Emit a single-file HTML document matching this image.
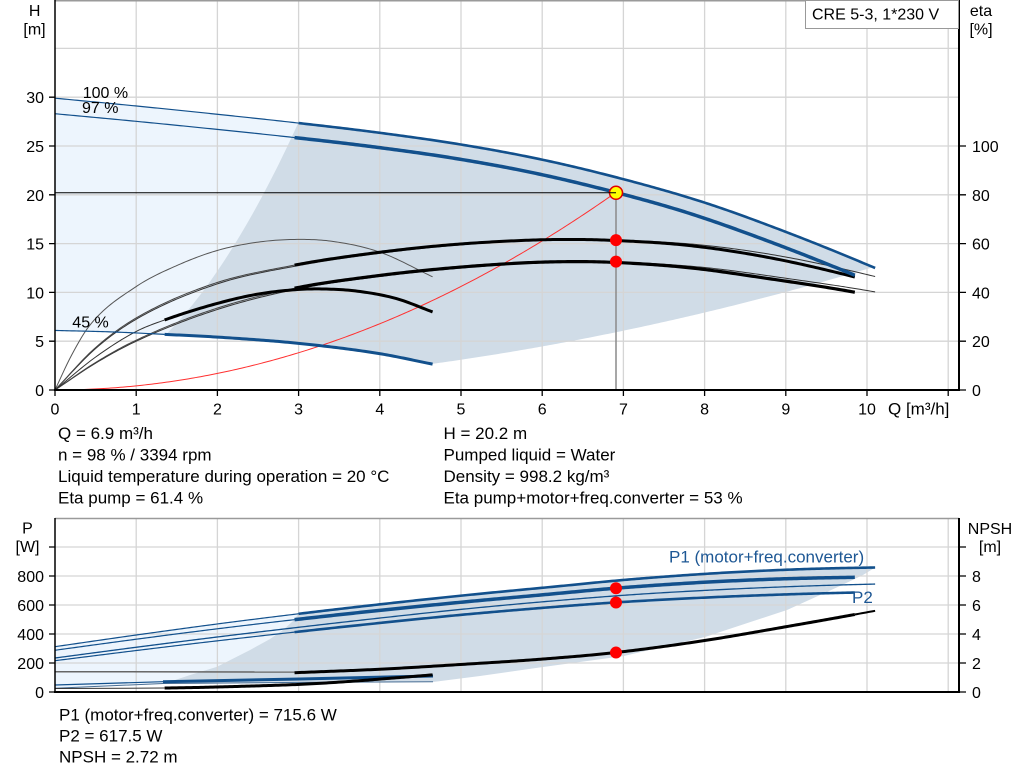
<!DOCTYPE html>
<html><head><meta charset="utf-8">
<style>
html,body{margin:0;padding:0;background:#fff;}
svg{display:block;font-family:"Liberation Sans",Arial,sans-serif;}
.t16{font-size:16px;fill:#000;}
.t17{font-size:17px;fill:#000;}
</style></head><body>
<svg id="c" width="1024" height="781" viewBox="0 0 1024 781" xmlns="http://www.w3.org/2000/svg">
<rect x="0" y="0" width="1024" height="781" fill="#fff"/>
<g id="fills"></g>
<g stroke="#d5d5d5" stroke-width="1.3" fill="none">
<path d="M136.2 0V390M217.4 0V390M298.6 0V390M379.8 0V390M461 0V390M542.2 0V390M623.4 0V390M704.6 0V390M785.8 0V390M867 0V390M948.2 0V390"/>
<path d="M55 341.2H959M55 292.4H959M55 243.6H959M55 194.8H959M55 146H959M55 97.2H959M55 48.4H959"/>
<path d="M136.2 518V692M217.4 518V692M298.6 518V692M379.8 518V692M461 518V692M542.2 518V692M623.4 518V692M704.6 518V692M785.8 518V692M867 518V692M948.2 518V692"/>
<path d="M55 663H959M55 634H959M55 605H959M55 576H959M55 547H959"/>
</g>
<g id="curves"></g>
<g fill="none" stroke="#000">
<path d="M55 0.7H959M55 518.5H959" stroke="#9a9a9a" stroke-width="1.5"/>
<path d="M55 0V391" stroke-width="1.5"/>
<path d="M54 390H960" stroke-width="2"/>
<path d="M959 0V391" stroke-width="2"/>
<path d="M49 390H55M49 341.2H55M49 292.4H55M49 243.6H55M49 194.8H55M49 146H55M49 97.2H55" stroke-width="1.3"/>
<path d="M959 390H966M959 341.2H966M959 292.4H966M959 243.6H966M959 194.8H966M959 146H966" stroke-width="1.3"/>
<path d="M55 390V396M136.2 390V396M217.4 390V396M298.6 390V396M379.8 390V396M461 390V396M542.2 390V396M623.4 390V396M704.6 390V396M785.8 390V396M867 390V396M948.2 390V396" stroke-width="1.3"/>
<path d="M55 518V693" stroke-width="1.5"/>
<path d="M54 692H960" stroke-width="2"/>
<path d="M959 518V693" stroke-width="2"/>
<path d="M49 692H55M49 663H55M49 634H55M49 605H55M49 576H55M49 547H55" stroke-width="1.3"/>
<path d="M959 692H966M959 663H966M959 634H966M959 605H966M959 576H966M959 547H966" stroke-width="1.3"/>
</g>
<rect x="805.5" y="0.5" width="153" height="28" fill="#fff" stroke="#999" stroke-width="1"/>
<text class="t16" x="812" y="19.5">CRE 5-3, 1*230 V</text>
<g class="t16" text-anchor="middle">
<text x="34.7" y="16">H</text>
<text x="34.5" y="34.5">[m]</text>
<text x="981" y="16">eta</text>
<text x="981" y="34.5">[%]</text>
<text x="27.5" y="533.5">P</text>
<text x="27.5" y="552">[W]</text>
<text x="990" y="534">NPSH</text>
<text x="990" y="552">[m]</text>
</g>
<g class="t16" text-anchor="end">
<text x="44" y="396">0</text><text x="44" y="347.2">5</text><text x="44" y="298.4">10</text><text x="44" y="249.6">15</text><text x="44" y="200.8">20</text><text x="44" y="152">25</text><text x="44" y="103.2">30</text>
<text x="44" y="698">0</text><text x="44" y="669">200</text><text x="44" y="640">400</text><text x="44" y="611">600</text><text x="44" y="582">800</text>
</g>
<g class="t16">
<text x="972" y="396">0</text><text x="972" y="347.2">20</text><text x="972" y="298.4">40</text><text x="972" y="249.6">60</text><text x="972" y="200.8">80</text><text x="972" y="152">100</text>
<text x="972" y="698">0</text><text x="972" y="669">2</text><text x="972" y="640">4</text><text x="972" y="611">6</text><text x="972" y="582">8</text>
<text x="888" y="414.5" style="font-size:17px">Q [m³/h]</text>
<text x="82.7" y="98">100 %</text>
<text x="82" y="113">97 %</text>
<text x="72.3" y="327.5">45 %</text>
</g>
<g class="t16" text-anchor="middle">
<text x="55" y="414.5">0</text><text x="136.2" y="414.5">1</text><text x="217.4" y="414.5">2</text><text x="298.6" y="414.5">3</text><text x="379.8" y="414.5">4</text><text x="461" y="414.5">5</text><text x="542.2" y="414.5">6</text><text x="623.4" y="414.5">7</text><text x="704.6" y="414.5">8</text><text x="785.8" y="414.5">9</text><text x="867" y="414.5">10</text>
</g>
<g class="t17">
<text x="58" y="439">Q = 6.9 m³/h</text>
<text x="58" y="460.5">n = 98 % / 3394 rpm</text>
<text x="58" y="482">Liquid temperature during operation = 20 °C</text>
<text x="58" y="503.5">Eta pump = 61.4 %</text>
<text x="443.5" y="439">H = 20.2 m</text>
<text x="443.5" y="460.5">Pumped liquid = Water</text>
<text x="443.5" y="482">Density = 998.2 kg/m³</text>
<text x="443.5" y="503.5">Eta pump+motor+freq.converter = 53 %</text>
<text x="59" y="720.5">P1 (motor+freq.converter) = 715.6 W</text>
<text x="59" y="741.5">P2 = 617.5 W</text>
<text x="59" y="762.5">NPSH = 2.72 m</text>
<text x="669" y="562.5" style="fill:#1d5794">P1 (motor+freq.converter)</text>
<text x="852" y="603" style="fill:#1d5794">P2</text>
</g>
<g id="marks"></g>
</svg>
<script>
(function(){
var NS="http://www.w3.org/2000/svg";
function X(q){return 55+81.2*q;}
function YT(h){return 390-9.76*h;}
function YE(e){return 390-2.44*e;}
function YP(p){return 692-0.145*p;}
function YN(n){return 692-14.5*n;}
function sp(pts){var n=pts.length,xs=[],ys=[],d=[],m=[],i;
for(i=0;i<n;i++){xs.push(pts[i][0]);ys.push(pts[i][1]);}
for(i=0;i<n-1;i++)d[i]=(ys[i+1]-ys[i])/(xs[i+1]-xs[i]);
m[0]=d[0];m[n-1]=d[n-2];for(i=1;i<n-1;i++)m[i]=(d[i-1]+d[i])/2;
return function(x){var i=0;while(i<n-2&&x>xs[i+1])i++;var h=xs[i+1]-xs[i],t=(x-xs[i])/h,t2=t*t,t3=t2*t;
return (2*t3-3*t2+1)*ys[i]+(t3-2*t2+t)*h*m[i]+(-2*t3+3*t2)*ys[i+1]+(t3-t2)*h*m[i+1];};}
function P(f,q0,q1,Y){var a=[],N=Math.max(4,Math.ceil(Math.abs(q1-q0)/0.03));for(var k=0;k<=N;k++){var q=q0+(q1-q0)*k/N;a.push([X(q),Y(f(q))]);}return a;}
function d(a,start){var s='';for(var i=0;i<a.length;i++){s+=((i||!start)?'L':'M')+a[i][0].toFixed(2)+' '+a[i][1].toFixed(2);}return s;}
function add(g,tag,attrs){var e=document.createElementNS(NS,tag);for(var k in attrs)e.setAttribute(k,attrs[k]);document.getElementById(g).appendChild(e);return e;}
function line(a,col,w){add('curves','path',{d:d(a,true),fill:'none',stroke:col,'stroke-width':w,'stroke-linejoin':'round','stroke-linecap':'butt'});}
var BL='#12508c',BK='#000';
var H100=sp([[0,29.9],[1,29.1],[2,28.25],[3,27.35],[4,26.35],[5,25.15],[6,23.6],[7,21.6],[8,19.2],[9,16.2],[10.1,12.5],[10.4,11.4]]);
var H97=function(q){return 0.9467*H100(q/0.973);};
var H45=sp([[0,6.1],[0.7,5.95],[1.35,5.7],[2,5.42],[3,4.78],[4,3.72],[4.65,2.65]]);
var eP=sp([[0,0],[0.5,17],[1,29],[2,43.5],[3,51],[4,56],[5,59.5],[6,61.4],[6.5,61.7],[7,61.4],[8,59.3],[9,54.5],[10.1,46.5],[10.4,43.8]]);
var eP97=function(q){return eP(q/0.973);};
var eP45=sp([[0,0],[0.2,14],[0.43,26.6],[1,42.4],[1.5,51],[2,57.2],[2.5,60.6],[2.95,61.7],[3.4,61],[4,56.5],[4.65,46.4]]);
var eT=sp([[0,0],[0.5,11],[1,20],[2,33],[3,41.5],[4,46.5],[5,50],[6,52.2],[6.5,52.6],[7,52.4],[8,50.2],[9,45.8],[10.1,40.2],[10.4,38.2]]);
var eT97=function(q){return eT(q/0.973);};
var eT45=sp([[0,0],[0.5,13.5],[1,24],[1.35,28.7],[2,35.5],[2.5,39.3],[3,41.2],[3.3,41.4],[3.7,40.6],[4.2,37.5],[4.65,32]]);
var P1=sp([[0,288],[1,364],[2,436],[3,502],[4,563],[5,619],[6,670],[6.9,715.6],[8,757],[9,781],[9.85,791],[10.2,793]]);
var P1h=function(q){return P1(0.973*q)/0.921;};
var P2=sp([[0,216],[1,286],[2,353],[3,416],[4,476],[5,532],[6,580],[6.9,617.5],[8,651],[9,673],[9.85,686],[10.2,690]]);
var P2h=function(q){return P2(0.973*q)/0.921;};
var NP=sp([[2.95,1.33],[4,1.57],[5,1.9],[6,2.27],[6.9,2.72],[8,3.55],[9,4.5],[10.1,5.6],[10.4,5.92]]);
var NP45=function(q){return 0.2025*NP(q/0.45);};
var sysc=function(q){return 0.4243*q*q;};
var bmin=function(q){return 3.05*q*q;};
var bmax=function(q){return 0.124*q*q;};

/* top fills */
var qi=2.995;
var light=P(H100,0,qi,YT).concat(P(bmin,qi,1.35,YT)).concat(P(H45,1.35,0,YT));
add('fills','path',{d:d(light,true)+'Z',fill:'#edf5fd',stroke:'none'});
var gray=P(H100,qi,10.1,YT).concat(P(bmax,10.1,4.65,YT)).concat(P(H45,4.65,1.35,YT)).concat(P(bmin,1.35,qi,YT));
add('fills','path',{d:d(gray,true)+'Z',fill:'#d0dce7',stroke:'none'});
/* bottom fills */
var leftB=[[163,684],[175,680],[190,675],[217,666.7],[250,650],[270,639],[283,630],[293,621]];
var lb=P(P1h,0,3,YP);
var lbr=leftB.slice().reverse();
var lightB=lb.concat(lbr).concat([[55,688]]);
add('fills','path',{d:d(lightB,true)+'Z',fill:'#edf5fd',stroke:'none'});
var grayB=P(P1h,3,10.1,YP).concat([[863,575],[840,586],[787,610],[705,637],[624,656],[543,667],[480,676],[433,682]]).concat(leftB);
add('fills','path',{d:d(grayB,true)+'Z',fill:'#d0dce7',stroke:'none'});

/* top curves */
line(P(sysc,0,6.9,YT),'#ff3030',1);
add('curves','path',{d:'M616 193V390',fill:'none',stroke:'#8a8a8a','stroke-width':1.5});
line(P(eP45,0,4.65,YE),'#555',1);
line(P(eP,0,10.1,YE),'#333',1);
line(P(eT,0,10.1,YE),'#333',1);
line(P(eP97,0,2.95,YE),'#444',1);
line(P(eT97,0,2.95,YE),'#444',1);
line(P(eT45,0,1.35,YE),'#333',1);
line(P(eP97,2.95,9.85,YE),BK,3);
line(P(eT97,2.95,9.85,YE),BK,3.2);
line(P(eT45,1.35,4.65,YE),BK,3);
line(P(H100,0,3,YT),BL,1.2);
line(P(H100,3,10.1,YT),BL,2.6);
line(P(H97,0,2.95,YT),BL,1.2);
line(P(H97,2.95,9.85,YT),BL,3.5);
line(P(H45,0,1.35,YT),BL,1.2);
line(P(H45,1.35,4.65,YT),BL,3);

/* bottom curves */
add('curves','path',{d:'M55 671.7L296 672',fill:'none',stroke:'#666','stroke-width':1.5});
line(P(NP,2.95,9.85,YN),BK,3);
line(P(NP,9.85,10.1,YN),BK,2);
line(P(P1h,0,3,YP),BL,1.2);
line(P(P1h,3,10.1,YP),BL,2.6);
line(P(P1,0,2.95,YP),BL,1.2);
line(P(P1,2.95,9.85,YP),BL,3.5);
line(P(P2h,0,10.1,YP),BL,1.3);
line(P(P2,0,2.95,YP),BL,1.2);
line(P(P2,2.95,9.85,YP),BL,2.6);
line([[55,688.3],[163,683.5],[300,682.4],[433,681.7]],'#4a6f95',1);
line([[55,685],[163,681.7]],BL,1.2);
line([[163,681.7],[300,679],[433,676]],BL,3);
line([[55,688.5],[X(1.35),YN(NP45(1.35))]],'#333',1);
line(P(NP45,1.35,4.65,YN),BK,3);

/* markers */
function dot(x,y){add('marks','circle',{cx:x,cy:y,r:6,fill:'#ff0000',stroke:'none'});}
dot(616,YE(61.4));dot(616,YE(52.6));
dot(616,YP(715.6));dot(616,YP(617.5));dot(616,YN(2.72));
add('marks','circle',{cx:616,cy:192.8,r:6.5,fill:'#ffff00',stroke:'#e00000','stroke-width':1.5});
add('marks','path',{d:'M55 192.8H616',fill:'none',stroke:'#000','stroke-width':1});
})();
</script>
</body></html>
